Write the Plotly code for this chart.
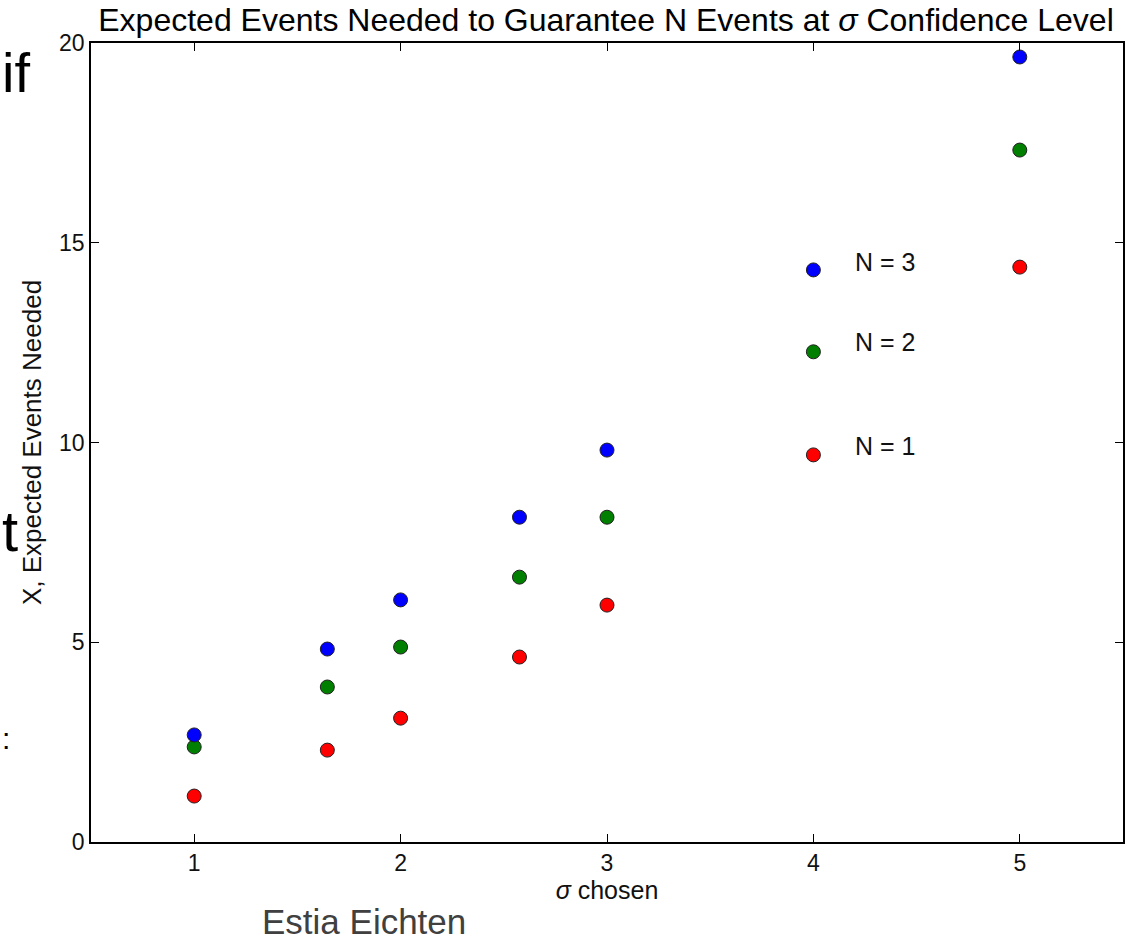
import plotly.graph_objects as go

sigma = [1, 1.645, 2, 2.576, 3, 4, 5]
n1 = [1.15, 2.30, 3.10, 4.63, 5.93, 9.69, 14.39]
n2 = [2.38, 3.88, 4.88, 6.63, 8.13, 12.27, 17.32]
n3 = [2.68, 4.83, 6.06, 8.13, 9.81, 14.32, 19.65]
labels = ["N = 3", "N = 2", "N = 1"]
label_x = [4.19, 4.19, 4.19]
label_y = [14.52, 12.52, 9.91]

W, H = 1137, 941
L, R, T, B = 91, 12, 43, 99
pw, ph = W - L - R, H - T - B

def px(x):
    return (x - L) / pw

def py(y):
    return (H - B - y) / ph

fig = go.Figure()
for vals, col in [(n1, "#ff0000"), (n2, "#007f00"), (n3, "#0000ff")]:
    fig.add_trace(go.Scatter(
        x=sigma, y=vals, mode="markers",
        marker=dict(size=14, color=col, line=dict(color="#222222", width=1)),
        showlegend=False, cliponaxis=False))

font = "Liberation Sans, Arial, sans-serif"
ann = []
for t, x, y in zip(labels, label_x, label_y):
    ann.append(dict(x=x, y=y, xref="x", yref="y", text=t, showarrow=False,
                    xanchor="left", yanchor="middle",
                    font=dict(family=font, size=25, color="#111")))
# slide artefacts
ann.append(dict(x=px(0), y=py(72), xref="paper", yref="paper", text="if", showarrow=False,
                xanchor="left", yanchor="middle", font=dict(family=font, size=56, color="black")))
ann.append(dict(x=px(0), y=py(530), xref="paper", yref="paper", text="t", showarrow=False,
                xanchor="left", yanchor="middle", font=dict(family=font, size=58, color="black")))
ann.append(dict(x=px(0), y=py(738), xref="paper", yref="paper", text=":", showarrow=False,
                xanchor="left", yanchor="middle", font=dict(family=font, size=30, color="black")))
ann.append(dict(x=px(365), y=py(921), xref="paper", yref="paper", text="Estia Eichten", showarrow=False,
                xanchor="center", yanchor="middle", font=dict(family=font, size=35, color="#404040")))

axis_common = dict(showline=True, linecolor="black", linewidth=1.5, mirror="ticks",
                   ticks="inside", ticklen=8, tickwidth=1, tickcolor="black",
                   showgrid=False, zeroline=False,
                   tickfont=dict(family=font, size=23, color="#111"))

fig.update_layout(
    width=W, height=H,
    margin=dict(l=L, r=R, t=T, b=B),
    plot_bgcolor="white", paper_bgcolor="white",
    title=dict(text="Expected Events Needed to Guarantee N Events at <i>σ</i> Confidence Level",
               xref="container", x=606 / W, xanchor="center", y=1 - 20 / H, yanchor="middle",
               font=dict(family=font, size=32, color="black")),
    xaxis=dict(range=[0.5, 5.5], tickvals=[1, 2, 3, 4, 5],
               title=dict(text="<i>σ</i> chosen", standoff=6,
                          font=dict(family=font, size=25, color="#111")),
               **axis_common),
    yaxis=dict(range=[0, 20], tickvals=[0, 5, 10, 15, 20],
               title=dict(text="X, Expected Events Needed", standoff=10,
                          font=dict(family=font, size=26, color="#111")),
               **axis_common),
    annotations=ann,
)
fig.write_html("out.html")
